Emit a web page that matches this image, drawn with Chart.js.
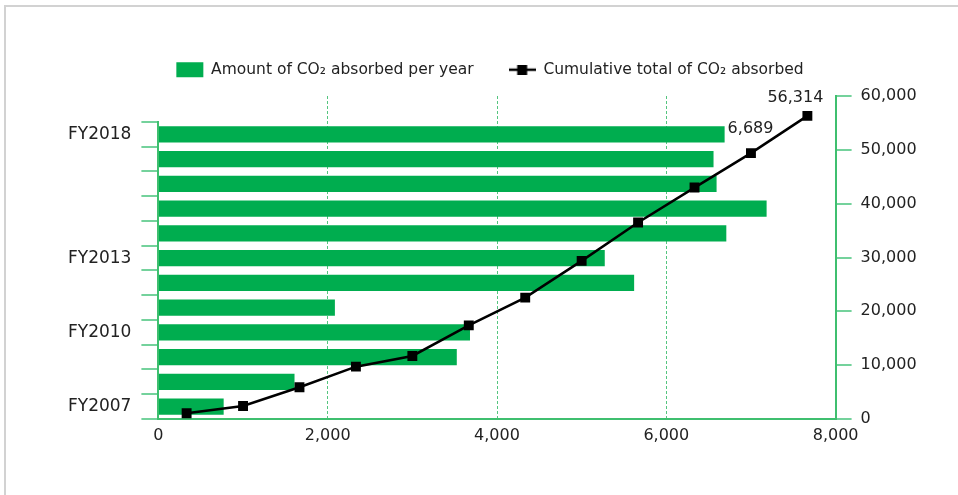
<!DOCTYPE html>
<html>
<head>
<meta charset="utf-8">
<script src="https://cdn.jsdelivr.net/npm/chart.js@4.4.0/dist/chart.umd.min.js"></script>
<style>
  html, body { margin: 0; padding: 0; background: #fff; overflow: hidden; }
  .frame { position: absolute; left: 4px; top: 5px; width: 1000px; height: 600px;
           border-top: 2px solid #d2d2d2; border-left: 2px solid #d2d2d2; }
  #chart { position: absolute; left: 0; top: 0; }
</style>
</head>
<body>
<div class="frame"></div>
<canvas id="chart" width="958" height="495"></canvas>
<script>
const years = ['FY2007', 'FY2008', 'FY2009', 'FY2010', 'FY2011', 'FY2012',
               'FY2013', 'FY2014', 'FY2015', 'FY2016', 'FY2017', 'FY2018'];
const shownYears = ['FY2007', 'FY2010', 'FY2013', 'FY2018'];
// t-CO2 absorbed in each fiscal year (bars, bottom axis)
const annualAbsorbed = [771, 1608, 3525, 3681, 2085, 5620, 5273, 6709, 7185, 6594, 6558, 6689];
// running total (line, right axis)
const cumulativeAbsorbed = [1080, 2416, 5900, 9720, 11710, 17400, 22550, 29370, 36490, 42990, 49390, 56314];

const barLabel = 'Amount of CO\u2082 absorbed per year';
const lineLabel = 'Cumulative total of CO\u2082 absorbed';

const GREEN = '#00ad4f';
const AXIS = '#3fbf6f';
const TICK = '#74d29c';
const TEXT = '#222';

Chart.defaults.font.family = "'DejaVu Sans', sans-serif";
Chart.defaults.color = TEXT;

const fmt = v => Number(v).toLocaleString('en-US');

// legend icon: short line with a square marker
const lineIcon = document.createElement('canvas');
lineIcon.width = 27;
lineIcon.height = 10;
const ic = lineIcon.getContext('2d');
ic.strokeStyle = '#000';
ic.lineWidth = 2.5;
ic.beginPath();
ic.moveTo(0, 5);
ic.lineTo(27, 5);
ic.stroke();
ic.fillStyle = '#000';
ic.fillRect(8.5, 0, 10, 10);

const legendHeight = {
    id: 'legendHeight',
    beforeInit(chart) {
        const fit = chart.legend.fit;
        chart.legend.fit = function () {
            fit.call(this);
            this.height = 69;
        };
    }
};

// latest values written next to the last bar and last point
const lastValues = {
    id: 'lastValues',
    afterDatasetsDraw(chart) {
        const last = years.length - 1;
        const bar = chart.getDatasetMeta(1).data[last];
        const pt = chart.getDatasetMeta(0).data[last];
        const ctx = chart.ctx;
        ctx.save();
        ctx.font = "16px 'DejaVu Sans'";
        ctx.fillStyle = TEXT;
        ctx.textBaseline = 'middle';
        ctx.textAlign = 'left';
        ctx.fillText(fmt(annualAbsorbed[last]), bar.x + 3, bar.y - 6);
        ctx.textAlign = 'center';
        ctx.fillText(fmt(cumulativeAbsorbed[last]), pt.x - 12, pt.y - 18);
        ctx.restore();
    }
};

new Chart(document.getElementById('chart').getContext('2d'), {
    data: {
        labels: years,
        datasets: [
            {
                type: 'line',
                label: lineLabel,
                data: cumulativeAbsorbed,
                indexAxis: 'x',
                xAxisID: 'x2',
                yAxisID: 'y2',
                borderColor: '#000',
                backgroundColor: '#000',
                borderWidth: 2.5,
                pointStyle: 'rect',
                pointRadius: 7,
                pointBackgroundColor: '#000',
                pointBorderWidth: 0,
                tension: 0,
                order: 0
            },
            {
                type: 'bar',
                label: barLabel,
                data: annualAbsorbed,
                indexAxis: 'y',
                xAxisID: 'x',
                yAxisID: 'y',
                backgroundColor: GREEN,
                borderWidth: 0,
                grouped: false,
                categoryPercentage: 1,
                barPercentage: 0.66,
                order: 1
            }
        ]
    },
    options: {
        responsive: false,
        animation: false,
        layout: { padding: { left: 22, right: 0, top: 27, bottom: 0 } },
        plugins: {
            legend: {
                position: 'top',
                labels: {
                    usePointStyle: true,
                    pointStyleWidth: 27,
                    boxHeight: 15,
                    padding: 35,
                    color: TEXT,
                    font: { size: 15.5 },
                    generateLabels(chart) {
                        const items = Chart.defaults.plugins.legend.labels.generateLabels(chart);
                        items.sort((a, b) => b.datasetIndex - a.datasetIndex);
                        items.forEach(it => {
                            it.pointStyle = it.datasetIndex === 0 ? lineIcon : 'rect';
                        });
                        return items;
                    }
                }
            },
            tooltip: { enabled: false }
        },
        scales: {
            x: {
                type: 'linear',
                position: 'bottom',
                min: 0,
                max: 8000,
                afterFit: s => { s.height = 76; },
                ticks: { stepSize: 2000, padding: 7, font: { size: 16 }, callback: v => fmt(v) },
                grid: {
                    drawTicks: false,
                    lineWidth: 1,
                    color: c => (c.tick && (c.tick.value === 0 || c.tick.value === 8000)) ? 'rgba(0,0,0,0)' : '#55c57f'
                },
                border: { color: AXIS, width: 2, dash: [3, 2] }
            },
            x2: {
                type: 'category',
                position: 'bottom',
                display: false,
                offset: true
            },
            y: {
                type: 'category',
                position: 'left',
                reverse: true,
                stack: 'left',
                stackWeight: 12,
                offset: true,
                afterFit: s => { s.width = 136.4; },
                ticks: {
                    autoSkip: false,
                    padding: 10,
                    font: { size: 17 },
                    callback(value) {
                        const label = this.getLabelForValue(value);
                        return shownYears.includes(label) ? label : '';
                    }
                },
                grid: { drawOnChartArea: false, offset: true, tickLength: 17, color: TICK, lineWidth: 2 },
                border: { color: AXIS, width: 2 }
            },
            yPad: {
                type: 'linear',
                position: 'left',
                stack: 'left',
                stackWeight: 1.05,
                display: false
            },
            y2: {
                type: 'linear',
                position: 'right',
                min: 0,
                max: 60000,
                afterFit: s => { s.width = 122.4; },
                ticks: { stepSize: 10000, padding: 9, font: { size: 16 }, callback: v => fmt(v) },
                grid: { drawOnChartArea: false, tickLength: 16, color: TICK, lineWidth: 2 },
                border: { color: AXIS, width: 2 }
            }
        }
    },
    plugins: [legendHeight, lastValues]
});
</script>
</body>
</html>
